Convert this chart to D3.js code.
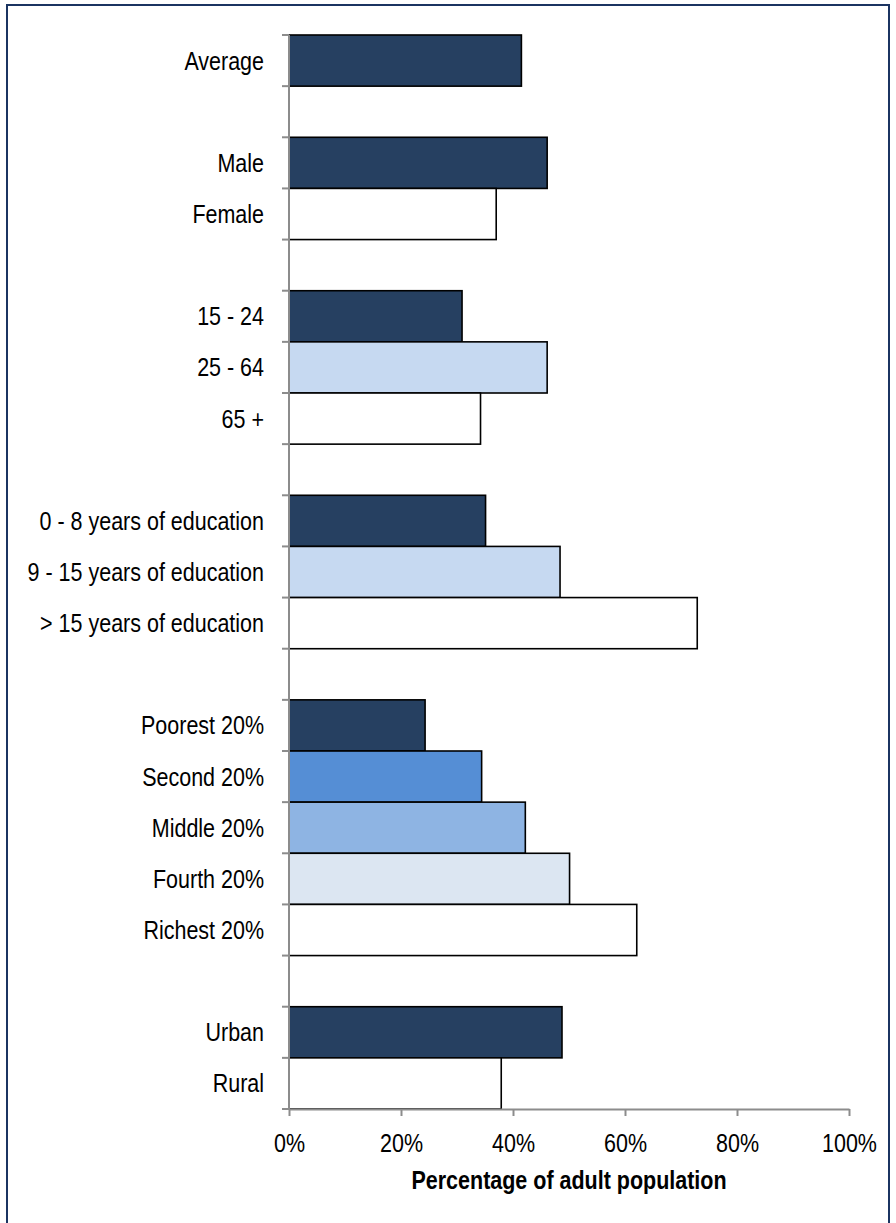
<!DOCTYPE html>
<html>
<head>
<meta charset="utf-8">
<script src="https://cdn.jsdelivr.net/npm/d3@7"></script>
<style>
  html, body { margin: 0; padding: 0; background: #fff; }
  svg { display: block; }
  text { font-family: "Liberation Sans", Arial, sans-serif; fill: #000; }
</style>
</head>
<body>
<svg id="chart" width="896" height="1223"></svg>
<script>
// ---- data ----
const categories = ["Average", "gap1", "Male", "Female", "gap2", "15 - 24", "25 - 64", "65 +", "gap3",
  "0 - 8 years of education", "9 - 15 years of education", "> 15 years of education", "gap4",
  "Poorest 20%", "Second 20%", "Middle 20%", "Fourth 20%", "Richest 20%", "gap5", "Urban", "Rural"];
const values = [41.5, null, 46.1, 37.0, null, 30.9, 46.1, 34.2, null, 35.1, 48.4, 72.9, null,
  24.3, 34.4, 42.2, 50.1, 62.1, null, 48.75, 37.9];
const xTicks = [0, 20, 40, 60, 80, 100];
const xTitle = "Percentage of adult population";
// fill per bar (style, kept separate from values)
const barFills = ["#264061", null, "#264061", "#ffffff", null, "#264061", "#C6D9F1", "#ffffff", null,
  "#264061", "#C6D9F1", "#ffffff", null, "#264061", "#558ED5", "#8EB4E3", "#DCE6F2", "#ffffff", null,
  "#264061", "#ffffff"];

(function () {
const svg = d3.select("#chart");
const mLeft = 289, mRight = 849, mTop = 35, mBottom = 1109;
const sy = 1.17; // vertical stretch of text seen in reference

// border
svg.append("rect").attr("x", 7).attr("y", 5).attr("width", 882).attr("height", 1240)
  .attr("fill", "none").attr("stroke", "#1b3461").attr("stroke-width", 2);

const x = d3.scaleLinear().domain([0, 100]).range([mLeft, mRight]);
const y = d3.scaleBand().domain(categories).range([mTop, mBottom]).padding(0);

const rows = categories.map((c, i) => ({ c, v: values[i], fill: barFills[i] }));

// bars
svg.append("g").selectAll("rect").data(rows.filter(d => d.v != null)).join("rect")
  .attr("x", x(0))
  .attr("y", d => y(d.c))
  .attr("width", d => x(d.v) - x(0))
  .attr("height", y.bandwidth())
  .attr("fill", d => d.fill)
  .attr("stroke", "#000")
  .attr("stroke-width", 1.6);

// y axis line + boundary ticks
const gy = svg.append("g");
const bounds = categories.map(c => y(c)).concat([y(categories[categories.length - 1]) + y.bandwidth()]);
gy.selectAll("line.t").data(bounds).join("line").attr("class", "t")
  .attr("x1", x(0) - 7).attr("x2", x(0)).attr("y1", d => d).attr("y2", d => d)
  .attr("stroke", "#8c8c8c").attr("stroke-width", 2);
gy.append("line").attr("x1", x(0)).attr("x2", x(0)).attr("y1", mTop).attr("y2", mBottom)
  .attr("stroke", "#8c8c8c").attr("stroke-width", 2);

// y labels via axis
const yAxis = d3.axisLeft(y).tickSize(0).tickPadding(25)
  .tickFormat(d => d.startsWith("gap") ? "" : d);
const gyl = svg.append("g").attr("transform", `translate(${x(0)},0)`).call(yAxis);
gyl.select(".domain").remove();
gyl.selectAll("text")
  .attr("x", -25).attr("y", 0).attr("dy", "0.36em")
  .attr("transform", `scale(1,${sy})`)
  .style("font-size", "21.5px").style("font-family", '"Liberation Sans", Arial, sans-serif')
  .attr("fill", "#000");

// x axis
const xAxis = d3.axisBottom(x).tickValues(xTicks).tickSize(7).tickSizeOuter(0)
  .tickFormat(d => d + "%");
const gx = svg.append("g").attr("transform", `translate(0,${mBottom})`).call(xAxis);
gx.select(".domain").attr("stroke", "#8c8c8c").attr("stroke-width", 2);
gx.selectAll(".tick line").attr("stroke", "#8c8c8c").attr("stroke-width", 2);
gx.selectAll("text")
  .attr("y", 0).attr("dy", "0.36em")
  .attr("transform", `translate(0,34) scale(1,${sy})`)
  .style("font-size", "21.5px").style("font-family", '"Liberation Sans", Arial, sans-serif')
  .attr("fill", "#000");

// x title
svg.append("text")
  .attr("transform", `translate(${(mLeft + mRight) / 2},${mBottom + 71}) scale(1,${sy})`)
  .attr("text-anchor", "middle").attr("dy", "0.36em")
  .style("font-size", "21.5px").style("font-weight", "bold")
  .text(xTitle);
})();
</script>
</body>
</html>
